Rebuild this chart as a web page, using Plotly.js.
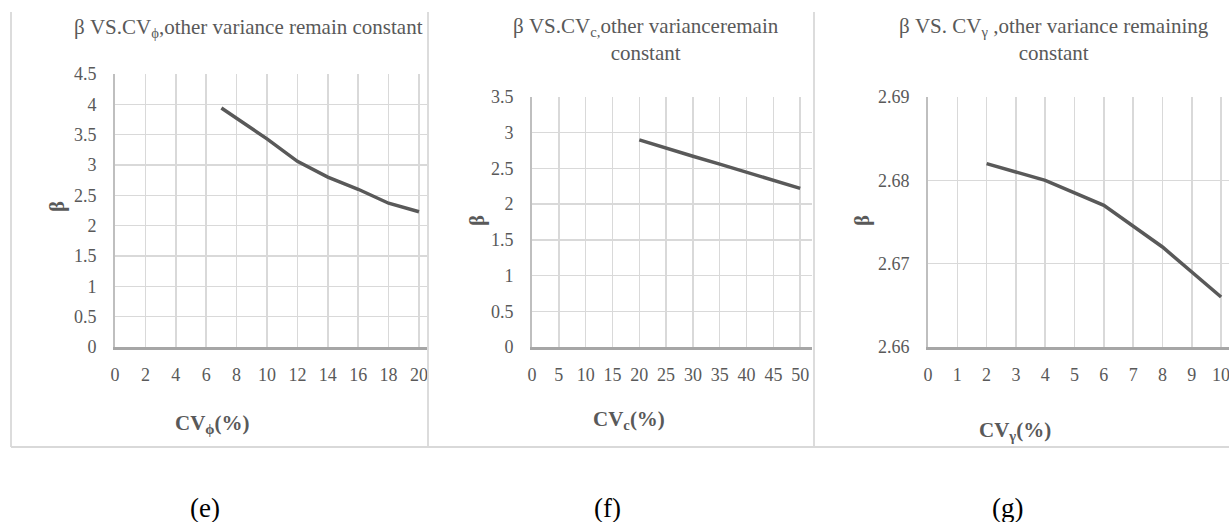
<!DOCTYPE html>
<html>
<head>
<meta charset="utf-8">
<script src="https://cdn.plot.ly/plotly-3.0.1.min.js"></script>
<style>html,body{margin:0;padding:0;background:#fff;}#chart{width:1229px;height:522px;}</style>
</head>
<body>
<div id="chart"></div>
<script>
// ---- data ----
const cvPhi = [7, 8, 10, 12, 14, 16, 18, 20];
const betaPhi = [3.94, 3.77, 3.43, 3.06, 2.80, 2.60, 2.37, 2.23];

const cvC = [20, 25, 30, 35, 40, 45, 50];
const betaC = [2.90, 2.78, 2.67, 2.56, 2.45, 2.34, 2.22];

const cvGamma = [2, 4, 6, 8, 10];
const betaGamma = [2.682, 2.680, 2.677, 2.672, 2.666];

const titles = [
  "β VS.CV<sub>ϕ</sub>,other variance remain constant",
  "β VS.CV<sub>c,</sub>other varianceremain<br>constant",
  "β VS. CV<sub>γ</sub> ,other variance remaining<br>constant"
];
const xTitles = ["<b>CV<sub>ϕ</sub>(%)</b>", "<b>CV<sub>c</sub>(%)</b>", "<b>CV<sub>γ</sub>(%)</b>"];
const yTitle = "<b>β</b>";
const captions = ["(e)", "(f)", "(g)"];

// ---- layout helpers ----
const W = 1229, H = 522;
const fx = x => x / W;
const fy = y => 1 - y / H;
const FONT = "Liberation Serif, 'Times New Roman', serif";
const GREY = "#595959";

function xaxis(domL, domR, range, dtick, anchor) {
  return {
    domain: [fx(domL), fx(domR)], range: range, dtick: dtick, tick0: 0, anchor: anchor,
    showgrid: true, gridcolor: "#d9d9d9", gridwidth: 1.5, zeroline: false,
    showline: true, linecolor: "#a6a6a6", linewidth: 2.5,
    ticks: "", ticklabelstandoff: 10, ticklabeloverflow: "allow",
    tickfont: {family: FONT, size: 18, color: GREY}, fixedrange: true
  };
}
function yaxis(domT, domB, range, dtick, anchor, fmt) {
  return {
    domain: [fy(domB), fy(domT)], range: range, dtick: dtick, tick0: range[0], anchor: anchor,
    showgrid: true, gridcolor: "#d9d9d9", gridwidth: 1.5, zeroline: false,
    showline: true, linecolor: "#bfbfbf", linewidth: 2,
    ticks: "", ticklabelstandoff: 13, tickformat: fmt,
    tickfont: {family: FONT, size: 18, color: GREY}, fixedrange: true
  };
}

const lineStyle = {color: GREY, width: 3.5};
const traces = [
  {x: cvPhi, y: betaPhi, xaxis: "x", yaxis: "y", mode: "lines", line: lineStyle, hoverinfo: "skip"},
  {x: cvC, y: betaC, xaxis: "x2", yaxis: "y2", mode: "lines", line: lineStyle, hoverinfo: "skip"},
  {x: cvGamma, y: betaGamma, xaxis: "x3", yaxis: "y3", mode: "lines", line: lineStyle, hoverinfo: "skip"}
];

function ann(text, x, y, size, color, extra) {
  return Object.assign({
    text: text, x: fx(x), y: fy(y), xref: "paper", yref: "paper",
    xanchor: "center", yanchor: "middle", showarrow: false,
    font: {family: FONT, size: size, color: color}
  }, extra || {});
}

const annotations = [
  ann(titles[0], 248, 28, 21, GREY),
  ann(titles[1], 646, 40, 21, GREY),
  ann(titles[2], 1054, 40, 21, GREY),
  ann(xTitles[0], 213, 424, 21, GREY),
  ann(xTitles[1], 629, 420, 21, GREY),
  ann(xTitles[2], 1015, 431, 21, GREY),
  ann(yTitle, 57, 207, 21, GREY, {textangle: -90}),
  ann(yTitle, 477, 220, 21, GREY, {textangle: -90}),
  ann(yTitle, 862, 221, 21, GREY, {textangle: -90}),
  ann(captions[0], 205, 508, 27, "#000"),
  ann(captions[1], 607, 508, 27, "#000"),
  ann(captions[2], 1007, 508, 27, "#000")
];

function vline(x) {
  return {type: "line", xref: "paper", yref: "paper", x0: fx(x), x1: fx(x), y0: fy(12), y1: fy(447),
          line: {color: "#d9d9d9", width: 1.8}};
}
const shapes = [
  vline(11), vline(428), vline(814),
  {type: "line", xref: "paper", yref: "paper", x0: fx(11), x1: 1, y0: fy(447), y1: fy(447),
   line: {color: "#d9d9d9", width: 2}}
];

const layout = {
  width: W, height: H, margin: {l: 0, r: 0, t: 0, b: 0},
  paper_bgcolor: "#fff", plot_bgcolor: "#fff", showlegend: false,
  xaxis: xaxis(115, 426.6, [0, 20.5], 2, "y"),
  yaxis: yaxis(74, 347, [0, 4.5], 0.5, "x"),
  xaxis2: xaxis(532, 812, [0, 52.2], 5, "y2"),
  yaxis2: yaxis(97, 347, [0, 3.5], 0.5, "x2"),
  xaxis3: xaxis(928, 1229, [0, 10.27], 1, "y3"),
  yaxis3: yaxis(97, 347, [2.66, 2.69], 0.01, "x3", ".2f"),
  annotations: annotations, shapes: shapes
};

Plotly.newPlot("chart", traces, layout, {staticPlot: true, displayModeBar: false});
</script>
</body>
</html>
